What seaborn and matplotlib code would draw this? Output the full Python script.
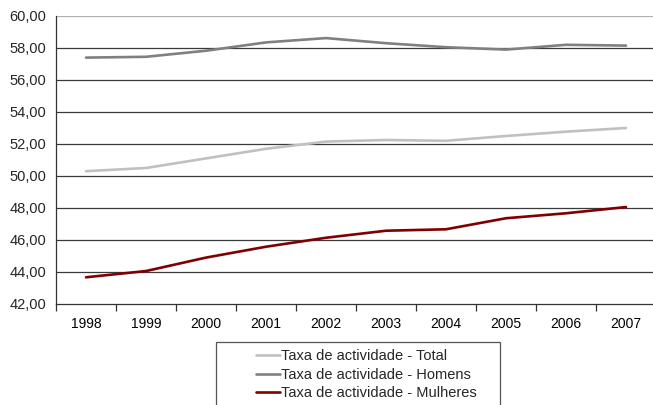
import numpy as np
import pandas as pd
import matplotlib
matplotlib.use("Agg")
import matplotlib.pyplot as plt
import seaborn as sns
from matplotlib.patches import Rectangle
from matplotlib.ticker import FixedLocator, FuncFormatter

# data
years = ["1998", "1999", "2000", "2001", "2002", "2003", "2004", "2005", "2006", "2007"]
total = [50.30, 50.50, 51.10, 51.70, 52.15, 52.25, 52.20, 52.50, 52.77, 53.00]
homens = [57.40, 57.45, 57.83, 58.35, 58.62, 58.30, 58.05, 57.90, 58.20, 58.15]
mulheres = [43.67, 44.06, 44.90, 45.58, 46.14, 46.58, 46.67, 47.36, 47.67, 48.06]
series_names = ["Taxa de actividade - Total", "Taxa de actividade - Homens",
                "Taxa de actividade - Mulheres"]
colors = ["#c0c0c0", "#808080", "#800000"]

df = pd.DataFrame({
    "x": list(range(len(years))) * 3,
    "valor": total + homens + mulheres,
    "serie": [series_names[0]] * 10 + [series_names[1]] * 10 + [series_names[2]] * 10,
})

sns.set_style("white")
plt.rcParams["font.family"] = ["Liberation Sans", "DejaVu Sans"]

fig = plt.figure(figsize=(6.53, 4.05), dpi=100)
ax = fig.add_axes([56 / 653, 1 - 304 / 405, 1 - 56 / 653, 288 / 405])

sns.lineplot(data=df, x="x", y="valor", hue="serie", palette=colors,
             hue_order=series_names, linewidth=1.9, ax=ax, legend=False)

ax.set_xlim(-0.5, 9.45)
ax.set_ylim(42, 60)

# gridlines
for v in np.arange(44, 60, 2):
    ax.axhline(v, color="#3a3a3a", linewidth=0.9, zorder=0)
ax.axhline(60, color="#b0b0b0", linewidth=0.9, zorder=0)

ax.set_yticks(np.arange(42, 60.1, 2))
ax.yaxis.set_major_formatter(FuncFormatter(lambda v, p: f"{v:.2f}".replace(".", ",")))
ax.set_xticks(range(len(years)))
ax.set_xticklabels(years)
ax.xaxis.set_minor_locator(FixedLocator(np.arange(-0.5, 9.6, 1)))
ax.tick_params(axis="x", which="major", length=0, pad=9, labelsize=10, colors="#000000")
ax.tick_params(axis="x", which="minor", length=5, width=0.9, color="#333333", direction="out")
ax.tick_params(axis="y", length=5, width=0.9, color="#333333", direction="out", labelsize=10.5, pad=2)
ax.tick_params(bottom=True, which="both")

for s in ["top", "right"]:
    ax.spines[s].set_visible(False)
for s in ["left", "bottom"]:
    ax.spines[s].set_color("#333333")
    ax.spines[s].set_linewidth(0.9)
ax.set_xlabel("")
ax.set_ylabel("")

# legend box (cut off at the bottom edge like the original)
fig.patches.append(Rectangle((216 / 653, -0.05), (500 - 216) / 653, 0.05 + 1 - 342 / 405,
                             transform=fig.transFigure, fill=False,
                             edgecolor="#555555", linewidth=0.9))
handles = [plt.Line2D([], [], color=c, linewidth=1.9) for c in colors]
leg = fig.legend(handles, series_names, loc="upper left",
                 bbox_to_anchor=(252 / 653, 1 - 345 / 405), fontsize=10.5,
                 frameon=False, handlelength=1.6, handletextpad=0.1,
                 borderpad=0.3, labelspacing=0.3, borderaxespad=0)

fig.savefig("out.png", dpi=100)
